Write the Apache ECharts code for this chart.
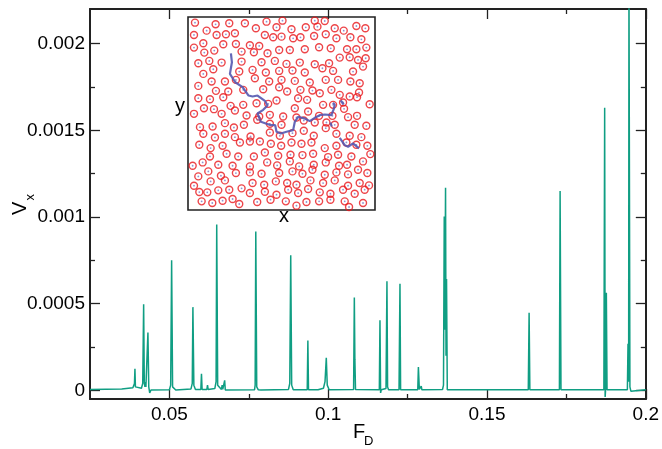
<!DOCTYPE html>
<html>
<head>
<meta charset="utf-8">
<script src="https://cdn.jsdelivr.net/npm/echarts@6/dist/echarts.min.js"></script>
<style>
  html, body { margin: 0; padding: 0; background: #fff; }
  #chart { width: 662px; height: 449px; }
</style>
</head>
<body>
<div id="chart"></div>
<script>
// Driving force F_D and the response V_x
const fD = [
  0.025, 0.035, 0.0385, 0.0390, 0.03915, 0.0393, 0.0398,
  0.0412, 0.0416, 0.04189, 0.0421, 0.0423, 0.0424, 0.0426, 0.0429, 0.04324, 0.0435, 0.0438, 0.0442,
  0.050, 0.0504, 0.0507, 0.0510, 0.052,
  0.0568, 0.0572, 0.0574, 0.0577, 0.0582,
  0.0599, 0.0601, 0.0603, 0.0618, 0.0620, 0.0622,
  0.0643, 0.0647, 0.0649, 0.0652, 0.0664, 0.0666, 0.0668, 0.0672, 0.0674, 0.0676,
  0.0768, 0.0770, 0.0772, 0.0775, 0.0780, 0.0786, 0.0788,
  0.0875, 0.0879, 0.0882, 0.0885, 0.0890,
  0.0934, 0.0936, 0.0938, 0.0968, 0.0970, 0.0972,
  0.0985, 0.0990, 0.0994, 0.0997, 0.1003,
  0.1080, 0.10823, 0.1084, 0.1086,
  0.1161, 0.1163, 0.1165, 0.1167, 0.1182, 0.1185, 0.1187, 0.1190,
  0.1223, 0.1226, 0.1228,
  0.1282, 0.1284, 0.1287, 0.1291, 0.1293, 0.1295,
  0.1360, 0.1363, 0.13654, 0.1367, 0.13695, 0.1371, 0.13726, 0.1375,
  0.1630, 0.16326, 0.1635,
  0.1728, 0.17302, 0.1733,
  0.1868, 0.18705, 0.1872, 0.1874, 0.18758, 0.1878,
  0.1899, 0.1901, 0.1903,
  0.1942, 0.1944, 0.1946, 0.1947, 0.1950, 0.1953, 0.2
];
const vx = [
  0.000005, 0.000008, 0.000015, 0.00004, 0.000125, 0.00002, 0.00001,
  0.000012, 0.00004, 0.000496, 0.00004, 0.00002, 0.000048, 0.00002, 0.00003, 0.000333, 0.00002, -0.000015, 0.000002,
  0.000003, 0.00003, 0.00075, 0.00002, 0.000002,
  0.000008, 0.00004, 0.00048, 0.00003, 0.000005,
  0.000005, 0.000096, 0.000005, 0.000005, 0.00003, 0.000005,
  0.00001, 0.00005, 0.000957, 0.00003, 0.000005, 0.00003, 0.000005, 0.000008, 0.000058, 0.000002,
  0.000003, 0.00003, 0.000917, 0.00002, 0.000003, 0.000012, 0.000002,
  0.000005, 0.00004, 0.00078, 0.00003, 0.000003,
  0.000003, 0.000288, 0.000003, 0.000003, 0.00001, 0.000003,
  0.000012, 0.00005, 0.000188, 0.00003, 0.000003,
  0.000005, 0.000535, 0.00018, 0.000005,
  0.000003, 0.000404, -0.000015, 0.000003, 0.00001, 0.00063, 0.00002, 0.000003,
  0.000003, 0.000615, 0.000003,
  0.000003, 0.000135, 0.000005, 0.000005, 0.000025, 0.000003,
  0.000005, 0.00003, 0.001003, 0.00035, 0.001169, 0.0002, 0.000642, 0.000003,
  0.000003, 0.000448, 0.000003,
  0.000003, 0.00115, 0.000003,
  0.000003, 0.00163, -0.0000386, 0.00002, 0.000563, 0.000003,
  0.000003, 0.000013, 0.000003,
  0.000003, 0.000269, 0.00005, 0.0024, 0.00002, -0.000005, 0.000003
];

// Axis ticks and their labels
const xMajor = [0.05, 0.1, 0.15, 0.2];
const xMajorLabels = ['0.05', '0.1', '0.15', '0.2'];
const xMinor = [0.075, 0.125, 0.175];
const yMajor = [0, 0.0005, 0.001, 0.0015, 0.002];
const yMajorLabels = ['0', '0.0005', '0.001', '0.0015', '0.002'];
const yMinor = [0.00025, 0.00075, 0.00125, 0.00175];

// Inset: pinning sites and the particle trajectory (box units)
const pinSites = [
  [45,38],[107,43],[148,40],[195,40],[260,35],[308,32],[405,32],[435,33],
  [42,75],[80,62],[110,75],[138,73],[165,70],[228,55],[255,75],[290,52],[335,58],[378,52],[413,50],[465,55],[492,62],[530,48],[557,55],
  [42,113],[70,100],[103,122],[130,103],[168,102],[210,106],[238,108],[280,82],[305,80],[340,85],[362,82],[403,78],[438,73],[470,85],[512,82],[545,88],
  [73,128],[185,125],[222,127],[263,130],[298,120],[330,120],[375,118],[418,112],[453,115],[502,118],[530,118],[560,113],
  [55,160],[88,153],[125,158],[185,155],[245,157],[285,153],[320,162],[360,158],[405,163],[448,160],[480,143],[510,142],[535,150],[558,145],
  [70,192],[100,178],[178,185],[218,180],[258,188],[298,183],[338,182],[375,188],[428,175],[460,183],[520,185],[550,170],
  [55,228],[95,215],[135,215],[168,210],[225,205],[268,215],[305,210],[345,213],[390,218],[438,210],[475,210],[512,215],[540,220],
  [108,243],[145,245],[190,240],[250,238],[298,232],[322,245],[362,240],[398,242],[420,250],[455,240],[480,255],[510,260],[538,248],
  [55,265],[90,268],[130,262],[152,288],[190,285],[230,280],[265,282],[290,272],[355,265],[382,270],[430,285],[460,285],[490,278],[532,262],[570,283],
  [42,312],[72,295],[102,298],[125,312],[165,302],[200,317],[238,320],[270,315],[310,320],[345,295],[385,305],[418,318],[458,318],[493,297],[532,318],
  [60,352],[98,350],[135,340],[162,353],[192,345],[232,330],[270,342],[305,345],[350,323],[372,332],[405,338],[440,338],[465,345],[505,322],[525,345],[560,348],
  [70,372],[105,383],[135,372],[165,382],[212,380],[240,395],[270,368],[300,378],[338,370],[372,363],[402,378],[438,355],[470,372],[510,378],[545,382],
  [58,405],[92,415],[128,408],[180,398],[210,395],[273,402],[304,408],[335,398],[365,402],[395,398],[435,415],[470,408],[500,398],[530,405],[563,408],
  [38,468],[90,440],[140,432],[175,440],[222,440],[255,428],[295,438],[332,435],[368,436],[400,432],[445,442],[475,435],[515,440],[550,455],[572,433],
  [68,458],[115,465],[158,468],[210,470],[262,458],[292,467],[330,455],[358,470],[402,465],[438,458],[478,468],[502,465],
  [55,500],[85,485],[123,498],[168,490],[210,488],[245,492],[298,490],[338,485],[368,492],[398,480],[435,495],[470,488],[505,494],[535,480],[563,490],
  [42,528],[92,515],[135,512],[185,536],[218,520],[253,525],[288,515],[322,520],[350,525],[392,512],[430,520],[465,512],[505,528],[540,520],[568,527],
  [58,547],[82,548],[115,542],[148,540],[210,550],[255,546],[290,555],[325,540],[355,550],[385,538],[420,548],[452,552],[490,540],[525,552],[555,540],
  [65,575],[97,580],[128,573],[158,568],[178,583],[232,577],[272,570],[318,575],[350,588],[380,577],[418,575],[452,570],[495,575],[550,580],[508,592]
];
const pathMain = [
  [153,130],[156,157],[150,192],[166,217],[188,232],[206,257],[218,260],[233,257],[256,274],[263,287],
  [250,300],[233,311],[232,316],[243,336],[260,342],[273,346],[286,346],[290,366],[303,371],[320,366],
  [340,361],[345,336],[355,321],[375,326],[390,334],[405,324],[420,316],[435,314],[455,316],[459,311],
  [462,298],[465,285],[460,278]
];
const pathTail = [[480,384],[495,406],[505,411],[520,401],[538,416]];
const pathBitA = [[452,338],[456,350]];
const pathBitB = [[483,272],[492,284]];

const FONT = 'Liberation Sans, Arial, Helvetica, sans-serif';
const FRAME = '#222222';

function labelFrom(values, labels) {
  return function (v) {
    for (let i = 0; i < values.length; i++) {
      if (Math.abs(values[i] - v) < 1e-9) return labels[i];
    }
    return '';
  };
}

function xAxisDef(position, ticks, len, showLine, showLabel) {
  return {
    type: 'value', gridIndex: 0, min: 0.025, max: 0.2, position: position,
    axisLine: { show: showLine, onZero: false, lineStyle: { color: FRAME, width: 2 } },
    axisTick: { show: true, inside: true, length: len, customValues: ticks, lineStyle: { color: FRAME, width: 1.3 } },
    axisLabel: showLabel ? {
      show: true, customValues: xMajor, formatter: labelFrom(xMajor, xMajorLabels),
      fontFamily: FONT, fontSize: 19, color: '#000', margin: 6
    } : { show: false },
    splitLine: { show: false }
  };
}
function yAxisDef(position, ticks, len, showLine, showLabel) {
  return {
    type: 'value', gridIndex: 0, min: -0.00005, max: 0.0022, position: position,
    axisLine: { show: showLine, onZero: false, lineStyle: { color: FRAME, width: 2 } },
    axisTick: { show: true, inside: true, length: len, customValues: ticks, lineStyle: { color: FRAME, width: 1.3 } },
    axisLabel: showLabel ? {
      show: true, customValues: yMajor, formatter: labelFrom(yMajor, yMajorLabels),
      fontFamily: FONT, fontSize: 19, color: '#000', margin: 5
    } : { show: false },
    splitLine: { show: false }
  };
}

const chart = echarts.init(document.getElementById('chart'), null, { renderer: 'canvas' });

chart.setOption({
  animation: false,
  backgroundColor: '#fff',
  grid: [
    { left: 90, top: 9, width: 558, height: 390, containLabel: false },
    { left: 188, top: 17, width: 187, height: 193, show: true, backgroundColor: '#fff', borderColor: FRAME, borderWidth: 1.6 }
  ],
  xAxis: [
    xAxisDef('bottom', xMajor, 10, true, true),
    xAxisDef('bottom', xMinor, 5, false, false),
    xAxisDef('top', xMajor, 10, true, false),
    xAxisDef('top', xMinor, 5, false, false),
    { type: 'value', gridIndex: 1, min: 24, max: 586, show: false }
  ],
  yAxis: [
    yAxisDef('left', yMajor, 10, true, true),
    yAxisDef('left', yMinor, 5, false, false),
    yAxisDef('right', yMajor, 10, true, false),
    yAxisDef('right', yMinor, 5, false, false),
    { type: 'value', gridIndex: 1, min: 21, max: 601, inverse: true, show: false }
  ],
  series: [
    {
      type: 'line', xAxisIndex: 0, yAxisIndex: 0,
      data: fD.map(function (f, i) { return [f, vx[i]]; }),
      showSymbol: false, clip: true,
      lineStyle: { color: '#109e83', width: 1.5 },
      z: 3
    },
    {
      type: 'scatter', xAxisIndex: 4, yAxisIndex: 4, data: pinSites,
      symbol: 'circle', symbolSize: 7,
      itemStyle: { color: 'rgba(255,255,255,0)', borderColor: '#e8161c', borderWidth: 1.4 },
      z: 4
    },
    {
      type: 'scatter', xAxisIndex: 4, yAxisIndex: 4, data: pinSites,
      symbol: 'circle', symbolSize: 1.8,
      itemStyle: { color: '#6a6fc0', opacity: 0.75 },
      z: 5
    },
    {
      type: 'line', xAxisIndex: 4, yAxisIndex: 4, data: pathMain, showSymbol: false,
      lineStyle: { color: '#5458b0', width: 2.2, opacity: 0.9 }, z: 6
    },
    {
      type: 'line', xAxisIndex: 4, yAxisIndex: 4, data: pathTail, showSymbol: false,
      lineStyle: { color: '#5458b0', width: 2.2, opacity: 0.9 }, z: 6
    },
    {
      type: 'line', xAxisIndex: 4, yAxisIndex: 4, data: pathBitA, showSymbol: false,
      lineStyle: { color: '#5458b0', width: 2.2, opacity: 0.9 }, z: 6
    },
    {
      type: 'line', xAxisIndex: 4, yAxisIndex: 4, data: pathBitB, showSymbol: false,
      lineStyle: { color: '#5458b0', width: 2.2, opacity: 0.9 }, z: 6
    }
  ],
  graphic: [
    { type: 'text', x: 353, y: 422, style: { text: 'F', font: '20px ' + FONT, fill: '#000', textVerticalAlign: 'top' } },
    { type: 'text', x: 364, y: 435, style: { text: 'D', font: '13px ' + FONT, fill: '#000', textVerticalAlign: 'top' } },
    { type: 'text', x: 10.5, y: 215, rotation: Math.PI / 2, style: { text: 'V', font: '20px ' + FONT, fill: '#000', textVerticalAlign: 'top' } },
    { type: 'text', x: 23.5, y: 200.5, rotation: Math.PI / 2, style: { text: 'x', font: '13px ' + FONT, fill: '#000', textVerticalAlign: 'top' } },
    { type: 'text', x: 180, y: 96, style: { text: 'y', font: '20px ' + FONT, fill: '#000', textAlign: 'center', textVerticalAlign: 'top' } },
    { type: 'text', x: 284, y: 206, style: { text: 'x', font: '20px ' + FONT, fill: '#000', textAlign: 'center', textVerticalAlign: 'top' } }
  ]
});
</script>
</body>
</html>
